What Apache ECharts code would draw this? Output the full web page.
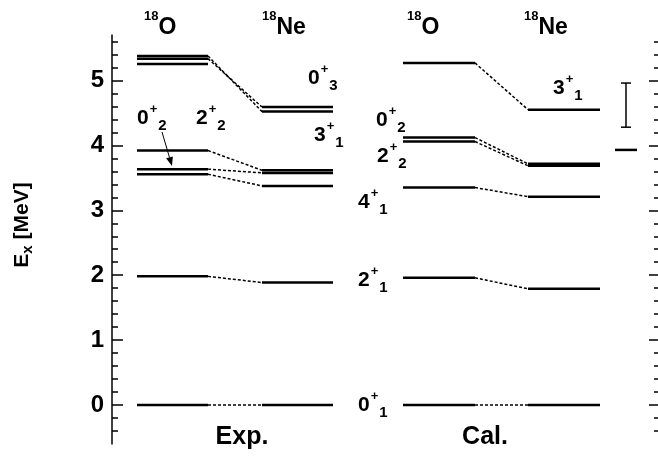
<!DOCTYPE html>
<html><head><meta charset="utf-8">
<script src="https://cdn.jsdelivr.net/npm/echarts@6/dist/echarts.min.js"></script>
<style>html,body{margin:0;padding:0;background:#fff}#c{width:658px;height:459px}</style>
</head><body><div id="c"></div>
<script>
// ---- data (MeV) ----
const expO  = [0, 1.982, 3.555, 3.634, 3.920, 5.255, 5.336, 5.378];
const expNe = [0, 1.887, 3.376, 3.576, 3.616, 4.520, 4.590];
const calO  = [0, 1.96, 3.35, 4.06, 4.12, 5.27];
const calNe = [0, 1.79, 3.21, 3.685, 3.715, 4.55];
const expLinks = [[0,0],[1,1],[2,2],[3,3],[4,4],[6,6],[7,5]];
const calLinks = [[0,0],[1,1],[2,2],[3,3],[4,4],[5,5]];
const errBar = [4.28, 4.96];
const refLevel = [3.93];
const majorTicks = [0, 1, 2, 3, 4, 5];
const minorTicks = [-0.4,-0.2,0.2,0.4,0.6,0.8,1.2,1.4,1.6,1.8,2.2,2.4,2.6,2.8,3.2,3.4,3.6,3.8,4.2,4.4,4.6,4.8,5.2,5.4,5.6];

// ---- layout (x in axis units) ----
const col = {
  expO: [25, 96], expNe: [150, 221],
  calO: [291, 363], calNe: [416, 488],
  err: 514, ref: [503, 525]
};
const FONT = "'Liberation Sans', Arial, sans-serif";

const levelSegs = [];
expO.forEach(e => levelSegs.push([col.expO[0], e, col.expO[1], e]));
expNe.forEach(e => levelSegs.push([col.expNe[0], e, col.expNe[1], e]));
calO.forEach(e => levelSegs.push([col.calO[0], e, col.calO[1], e]));
calNe.forEach(e => levelSegs.push([col.calNe[0], e, col.calNe[1], e]));
refLevel.forEach(e => levelSegs.push([col.ref[0], e, col.ref[1], e]));

const linkSegs = [];
expLinks.forEach(([a,b]) => linkSegs.push([col.expO[1], expO[a], col.expNe[0], expNe[b]]));
calLinks.forEach(([a,b]) => linkSegs.push([col.calO[1], calO[a], col.calNe[0], calNe[b]]));

const errSegs = [
  [col.err, errBar[0], col.err, errBar[1]],
  [col.err - 5, errBar[0], col.err + 5, errBar[0]],
  [col.err - 5, errBar[1], col.err + 5, errBar[1]]
];

function segSeries(data, style) {
  return {
    type: 'custom', data: data, clip: false, silent: true,
    renderItem: function (params, api) {
      const p1 = api.coord([api.value(0), api.value(1)]);
      const p2 = api.coord([api.value(2), api.value(3)]);
      return { type: 'line', shape: { x1: p1[0], y1: p1[1], x2: p2[0], y2: p2[1] }, style: style };
    }
  };
}

const rich = {
  d: { fontFamily: FONT, fontWeight: 'bold', fontSize: 21, lineHeight: 30, color: '#000' },
  sup: { fontFamily: FONT, fontWeight: 'bold', fontSize: 13, lineHeight: 14, verticalAlign: 'top', color: '#000', padding: [0,0,0,1] },
  sub: { fontFamily: FONT, fontWeight: 'bold', fontSize: 15, lineHeight: 14, verticalAlign: 'bottom', color: '#000', padding: [0,0,0,1] },
  iso: { fontFamily: FONT, fontWeight: 'bold', fontSize: 13, lineHeight: 14, verticalAlign: 'top', color: '#000' },
  el: { fontFamily: FONT, fontWeight: 'bold', fontSize: 23, lineHeight: 36, color: '#000' },
  e: { fontFamily: FONT, fontWeight: 'bold', fontSize: 21, lineHeight: 26, color: '#000' },
  s: { fontFamily: FONT, fontWeight: 'bold', fontSize: 15, lineHeight: 14, verticalAlign: 'bottom', color: '#000' }
};
function spin(j, k, x, y) {
  return { type: 'text', x: x, y: y, style: { text: '{d|' + j + '}{sup|+}{sub|' + k + '}', rich: rich, align: 'left', verticalAlign: 'middle' } };
}
function nuc(a, s, x, y) {
  return { type: 'text', x: x, y: y, style: { text: '{iso|' + a + '}{el|' + s + '}', rich: rich, align: 'left', verticalAlign: 'middle' } };
}
function plain(t, x, y) {
  return { type: 'text', x: x, y: y, style: { text: t, fontFamily: FONT, fontWeight: 'bold', fontSize: 25, fill: '#000', align: 'center', verticalAlign: 'middle' } };
}

// arrow
const ax0 = [162, 132], ax1 = [172, 166];
const ang = Math.atan2(ax1[1]-ax0[1], ax1[0]-ax0[0]);
const ah = 9, aw = 3.5;
const base = [ax1[0] - ah*Math.cos(ang), ax1[1] - ah*Math.sin(ang)];
const arrowHead = [ax1,
  [base[0] + aw*Math.sin(ang), base[1] - aw*Math.cos(ang)],
  [base[0] - aw*Math.sin(ang), base[1] + aw*Math.cos(ang)]];

const yBase = { type: 'value', min: -0.6, max: 5.7, splitLine: { show: false } };

const option = {
  backgroundColor: '#fff',
  animation: false,
  grid: { left: 112, right: 0, top: 35, bottom: 15, containLabel: false },
  xAxis: { type: 'value', min: 0, max: 546, show: false },
  yAxis: [
    Object.assign({}, yBase, {
      position: 'left',
      axisLine: { show: true, lineStyle: { color: '#000', width: 1.5 } },
      axisTick: { show: true, inside: true, length: 11, customValues: majorTicks, lineStyle: { color: '#000', width: 1.5 } },
      axisLabel: { show: true, customValues: majorTicks, margin: 8, color: '#000', fontFamily: FONT, fontWeight: 'bold', fontSize: 24 }
    }),
    Object.assign({}, yBase, {
      position: 'left',
      axisLine: { show: false },
      axisTick: { show: true, inside: true, length: 6, customValues: minorTicks, lineStyle: { color: '#000', width: 1.5 } },
      axisLabel: { show: false }
    }),
    Object.assign({}, yBase, {
      position: 'right',
      axisLine: { show: false },
      axisTick: { show: true, inside: true, length: 9, customValues: majorTicks, lineStyle: { color: '#000', width: 1.5 } },
      axisLabel: { show: false }
    }),
    Object.assign({}, yBase, {
      position: 'right',
      axisLine: { show: false },
      axisTick: { show: true, inside: true, length: 4, customValues: minorTicks, lineStyle: { color: '#000', width: 1.5 } },
      axisLabel: { show: false }
    })
  ],
  series: [
    segSeries(linkSegs, { stroke: '#000', lineWidth: 1.5, lineDash: [3, 2] }),
    segSeries(levelSegs, { stroke: '#000', lineWidth: 2.5 }),
    segSeries(errSegs, { stroke: '#000', lineWidth: 1.5 })
  ],
  graphic: [
    { type: 'text', x: 22, y: 225, rotation: Math.PI / 2,
      style: { text: '{e|E}{s|x}{e| [MeV]}', rich: rich, align: 'center', verticalAlign: 'middle' } },
    nuc('18', 'O', 144, 28), nuc('18', 'Ne', 262, 28),
    nuc('18', 'O', 407, 28), nuc('18', 'Ne', 524, 28),
    spin(0, 2, 137, 118), spin(2, 2, 196, 118),
    spin(0, 3, 308, 78), spin(3, 1, 314, 135),
    spin(0, 2, 376, 120), spin(2, 2, 377, 156),
    spin(4, 1, 358, 202), spin(2, 1, 358, 280),
    spin(0, 1, 358, 405), spin(3, 1, 553, 88),
    plain('Exp.', 242, 437), plain('Cal.', 485, 437),
    { type: 'line', shape: { x1: ax0[0], y1: ax0[1], x2: base[0], y2: base[1] }, style: { stroke: '#000', lineWidth: 1 } },
    { type: 'polygon', shape: { points: arrowHead }, style: { fill: '#000' } }
  ]
};
const chart = echarts.init(document.getElementById('c'), null, { renderer: 'canvas' });
chart.setOption(option);
</script>
</body></html>
